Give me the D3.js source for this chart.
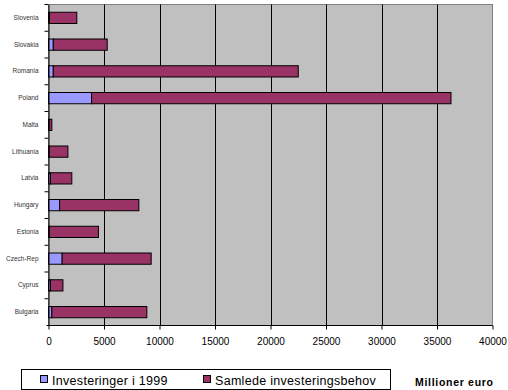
<!DOCTYPE html>
<html><head><meta charset="utf-8">
<script src="https://cdn.jsdelivr.net/npm/d3@7"></script>
<style>body{margin:0;background:#fff}svg{display:block}</style>
</head><body>
<script>
const categories = ["Bulgaria","Cyprus","Czech-Rep","Estonia","Hungary","Latvia","Lithuania","Malta","Poland","Romania","Slovakia","Slovenia"];
const invest1999 = [300, 180, 1230, 60, 1000, 180, 50, 40, 3880, 430, 430, 80];
const totalNeed = [8560, 1120, 8020, 4440, 7140, 1920, 1700, 260, 32380, 22070, 4860, 2470];
const seriesNames = ["Investeringer i 1999", "Samlede investeringsbehov"];
const xTicks = [0,5000,10000,15000,20000,25000,30000,35000,40000];
const colors = ["#9999ff", "#993366"];

const W = 508, H = 390;
const m = {l:48.5, r:492.5, t:4.5, b:325.5};
const svg = d3.select("body").append("svg").attr("width", W).attr("height", H);

const x = d3.scaleLinear().domain([0,40000]).range([m.l, m.r]);
const y = d3.scaleBand().domain(categories.slice().reverse()).range([m.t, m.b]);

svg.append("rect").attr("x", m.l).attr("y", m.t).attr("width", m.r-m.l).attr("height", m.b-m.t)
  .attr("fill", "#c0c0c0").attr("stroke", "#808080");

// gridlines
svg.append("g").selectAll("line").data(xTicks.slice(1, -1)).join("line")
  .attr("x1", d => Math.round(x(d))+0.5).attr("x2", d => Math.round(x(d))+0.5)
  .attr("y1", m.t).attr("y2", m.b).attr("stroke", "#000");

const rows = categories.map((c,i) => ({c, a: invest1999[i], b: totalNeed[i]}));
const bh = y.bandwidth()*0.42;
const g = svg.append("g");
rows.forEach(r => {
  const yy = y(r.c) + (y.bandwidth()-bh)/2;
  g.append("rect").attr("x", x(0)).attr("y", yy).attr("width", x(r.a)-x(0)).attr("height", bh)
    .attr("fill", colors[0]).attr("stroke", "#000").attr("stroke-width", 1);
  g.append("rect").attr("x", x(r.a)).attr("y", yy).attr("width", x(r.a+r.b)-x(r.a)).attr("height", bh)
    .attr("fill", colors[1]).attr("stroke", "#000").attr("stroke-width", 1);
});

// x axis
const xa = svg.append("g").attr("transform", `translate(0,${m.b})`)
  .call(d3.axisBottom(x).tickValues(xTicks).tickSize(4).tickSizeOuter(0).tickFormat(d3.format("d")));
xa.select(".domain").attr("stroke", "#000");
xa.selectAll(".tick line").attr("stroke", "#000");
xa.selectAll("text").attr("font-family", "Liberation Sans, Arial, sans-serif").attr("font-size", 10).attr("fill", "#000").attr("dy", "1.25em");
xa.select(".domain").attr("d", `M${m.l-2},0H${m.r}`);

// y axis
const ya = svg.append("g").attr("transform", `translate(${m.l},0)`)
  .call(d3.axisLeft(y).tickSize(0).tickPadding(10));
ya.select(".domain").attr("stroke", "#000");
ya.selectAll("text").attr("font-family", "Liberation Sans, Arial, sans-serif").attr("font-size", 6.5).attr("fill", "#333");
// category separator ticks
svg.append("g").selectAll("line").data(categories.slice().reverse().slice(1)).join("line")
  .attr("x1", m.l-4).attr("x2", m.l).attr("y1", d => y(d)).attr("y2", d => y(d)).attr("stroke", "#000");
svg.append("line").attr("x1", m.l-4).attr("x2", m.l).attr("y1", m.t).attr("y2", m.t).attr("stroke", "#000");

// legend
const lg = svg.append("g");
lg.append("rect").attr("x", 21.5).attr("y", 369.5).attr("width", 369).attr("height", 20).attr("fill", "#fff").attr("stroke", "#000");
const lx = [40, 203];
seriesNames.forEach((s,i) => {
  lg.append("rect").attr("x", lx[i]+0.5).attr("y", 375.5).attr("width", 7).attr("height", 7).attr("fill", colors[i]).attr("stroke", "#000");
  lg.append("text").attr("x", lx[i]+12).attr("y", 385).text(s)
    .attr("font-family", "Liberation Sans, Arial, sans-serif").attr("font-size", 12.5).attr("letter-spacing", 0.3).attr("fill", "#000");
});
svg.append("text").attr("x", 415).attr("y", 386).text("Millioner euro")
  .attr("font-family", "Liberation Sans, Arial, sans-serif").attr("font-size", 10.5).attr("letter-spacing", 0.7).attr("font-weight", "bold").attr("fill", "#000");
</script>
</body></html>
